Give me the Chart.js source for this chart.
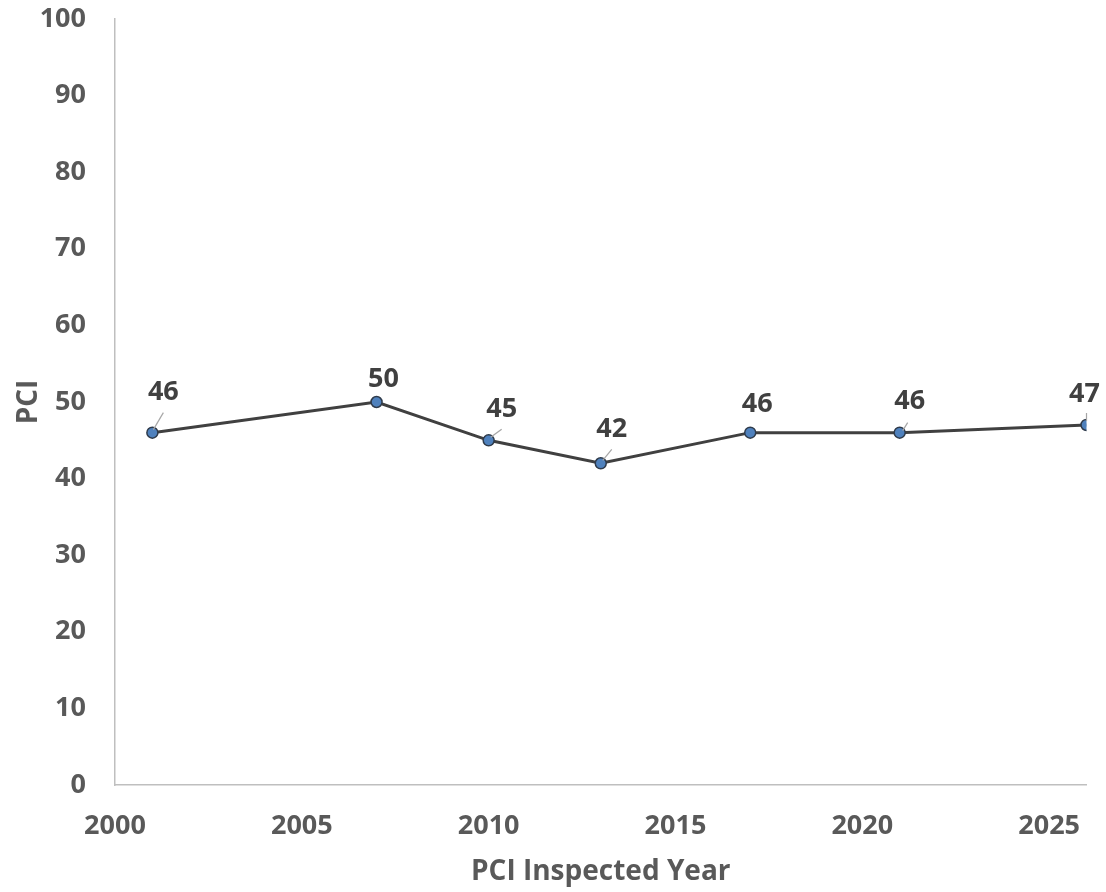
<!DOCTYPE html>
<html>
<head>
<meta charset="utf-8">
<script src="https://cdn.jsdelivr.net/npm/chart.js@4.4.0/dist/chart.umd.min.js"></script>
<style>
  body { margin: 0; background: #fff; }
  #wrap { width: 1106px; height: 892px; }
</style>
</head>
<body>
<div id="wrap"><canvas id="pciChart" width="1106" height="892"></canvas></div>
<script>
// data
const years = [2001, 2007, 2010, 2013, 2017, 2021, 2026];
const pci = [46, 50, 45, 42, 46, 46, 47];
const xTicks = [2000, 2005, 2010, 2015, 2020, 2025];
const yTicks = [0, 10, 20, 30, 40, 50, 60, 70, 80, 90, 100];
const xTitle = 'PCI Inspected Year';
const yTitle = 'PCI';

const FONT = 'Open Sans';
const tickGray = '#595959';
const axisGray = '#bfbfbf';

// data labels drawn Excel-style, some with a small leader line
const pointLabels = {
  id: 'pointLabels',
  afterDatasetsDraw(chart, args, opts) {
    const c = chart.ctx;
    const meta = chart.getDatasetMeta(0);
    c.save();
    meta.data.forEach(function (pt, i) {
      const off = opts.offsets[i];
      const lead = opts.leaders[i];
      if (lead) {
        c.strokeStyle = '#a6a6a6';
        c.lineWidth = 1.2;
        c.beginPath();
        c.moveTo(pt.x + lead[0], pt.y + lead[1]);
        c.lineTo(pt.x + lead[2], pt.y + lead[3]);
        c.stroke();
      }
      c.font = 'bold 27px "' + FONT + '"';
      c.fillStyle = '#404040';
      c.textAlign = 'center';
      c.textBaseline = 'middle';
      c.fillText(String(pci[i]), pt.x + off[0], pt.y + off[1]);
    });
    c.restore();
  }
};

const ctx = document.getElementById('pciChart');
const pciChart = new Chart(ctx, {
  type: 'line',
  data: {
    datasets: [{
      label: 'PCI',
      data: years.map(function (yr, i) { return { x: yr, y: pci[i] }; }),
      borderColor: '#404040',
      borderWidth: 3,
      pointRadius: 5.5,
      pointBackgroundColor: '#4f81bd',
      pointBorderColor: '#2f3b4b',
      pointBorderWidth: 1.5,
      tension: 0,
      fill: false
    }]
  },
  options: {
    responsive: false,
    animation: false,
    layout: { padding: { top: 19, right: 19.5, left: 0, bottom: 0 } },
    scales: {
      x: {
        type: 'linear',
        min: 2000,
        max: 2026,
        afterBuildTicks: function (scale) { scale.ticks = xTicks.map(function (v) { return { value: v }; }); },
        afterFit: function (scale) {
          scale.height = 107;
          scale.paddingLeft = 0;
          scale.paddingRight = 0;
        },
        grid: { display: false, drawTicks: false },
        border: { display: true, color: axisGray, width: 1.5 },
        ticks: {
          padding: 25,
          color: tickGray,
          font: { family: FONT, size: 27, weight: 'bold' },
          callback: function (v) { return String(v); }
        },
        title: {
          display: true,
          text: xTitle,
          color: tickGray,
          font: { family: FONT, size: 28, weight: 'bold' },
          padding: { top: 0, bottom: 3 }
        }
      },
      y: {
        min: 0,
        max: 100,
        afterBuildTicks: function (scale) { scale.ticks = yTicks.map(function (v) { return { value: v }; }); },
        afterFit: function (scale) {
          scale.width = 115;
          scale.paddingTop = 0;
          scale.paddingBottom = 0;
        },
        grid: { display: false, drawTicks: false },
        border: { display: true, color: axisGray, width: 1.5 },
        ticks: {
          padding: 29,
          color: tickGray,
          font: { family: FONT, size: 27, weight: 'bold' }
        },
        title: {
          display: true,
          text: yTitle,
          color: tickGray,
          font: { family: FONT, size: 28, weight: 'bold' },
          padding: { top: 12, bottom: 0 }
        }
      }
    },
    plugins: {
      legend: { display: false },
      tooltip: { enabled: false },
      pointLabels: {
        offsets: [[11, -40], [7, -23], [13, -31], [11, -34], [7, -28], [10, -31], [-2, -31]],
        leaders: [[1, -3, 11, -20], null, [2, -3, 13, -11], [2, -3, 11, -14], null, [3, -2, 8, -10], [0, -4, 0, -12]]
      }
    }
  },
  plugins: [pointLabels]
});
</script>
</body>
</html>
